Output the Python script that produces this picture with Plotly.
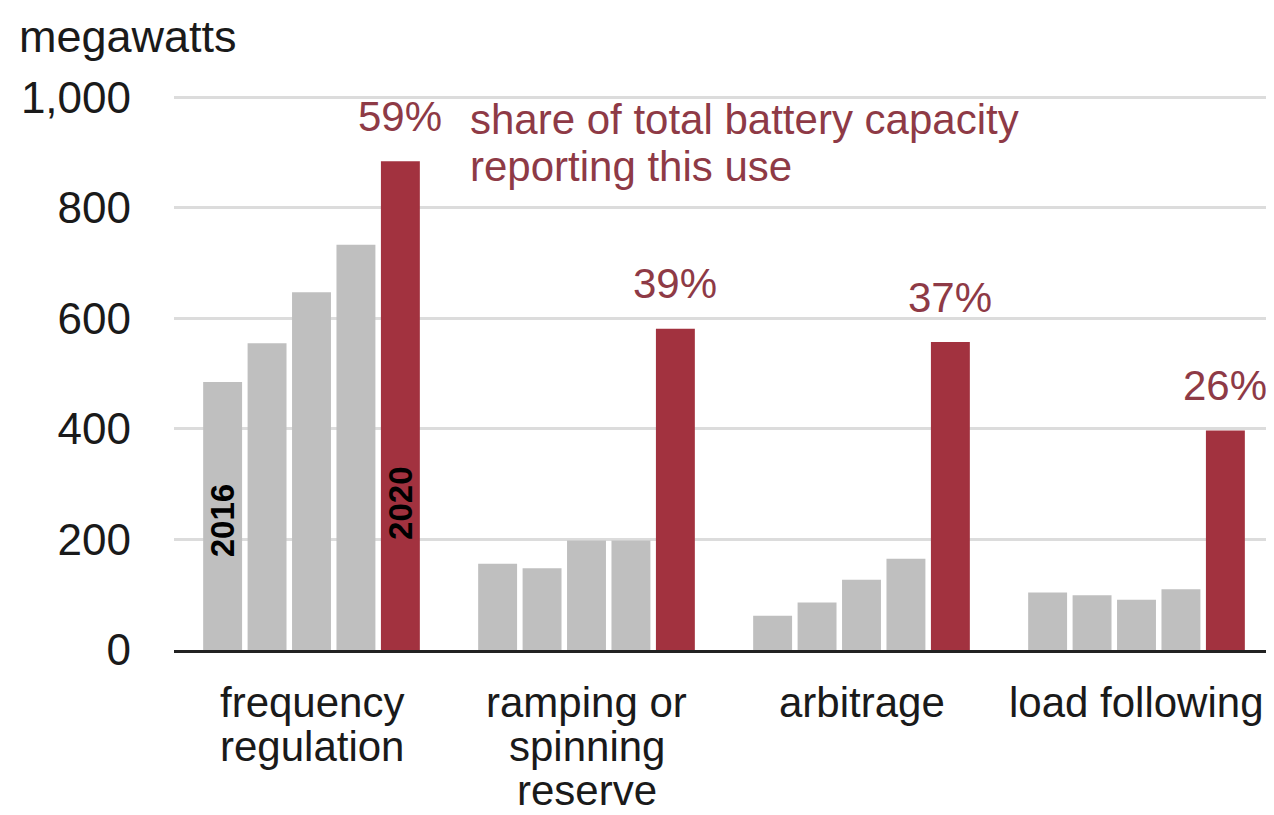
import plotly.graph_objects as go

# ---- data ----
categories = ["frequency<br>regulation", "ramping or<br>spinning<br>reserve", "arbitrage", "load following"]
years = ["2016", "2017", "2018", "2019", "2020"]
mw_2016 = [485, 156, 62, 104]
mw_2017 = [555, 148, 86, 99]
mw_2018 = [647, 198, 127, 91]
mw_2019 = [733, 198, 165, 110]
mw_2020 = [884, 581, 557, 397]
shares_2020 = ["59%", "39%", "37%", "26%"]
y_ticks = [0, 200, 400, 600, 800, 1000]
legend_note = ["share of total battery capacity", "reporting this use"]
y_title = "megawatts"

series = [mw_2016, mw_2017, mw_2018, mw_2019, mw_2020]

GREY = "#bfbfbf"
RED = "#a2323f"
NOTE = "#8e3a46"
INK = "#1a1a1a"
FONT = "Liberation Sans, Arial, sans-serif"
BARGAP = 0.192
GROUPGAP = 0.124

x_idx = list(range(len(categories)))

fig = go.Figure()
for k, (yr, vals) in enumerate(zip(years, series)):
    fig.add_trace(go.Bar(
        x=x_idx, y=vals, name=yr,
        marker=dict(color=RED if yr == "2020" else GREY, line=dict(width=0)),
        hoverinfo="x+y",
    ))

n = len(years)
slot = (1 - BARGAP) / n
def bar_x(cat_i, k):
    return cat_i + (k - (n - 1) / 2) * slot

annotations = []
# percentage labels above 2020 bars
for i, (v, s) in enumerate(zip(mw_2020, shares_2020)):
    annotations.append(dict(x=bar_x(i, n - 1), y=v, xref="x", yref="y", text=s,
                            showarrow=False, yanchor="middle", yshift=45,
                            font=dict(size=42, color=NOTE, family=FONT)))

# year labels inside first group bars
year_label_y = {0: 234, n - 1: 265}
for k, yv in year_label_y.items():
    annotations.append(dict(x=bar_x(0, k), y=yv, xref="x", yref="y", text=years[k],
                            showarrow=False, textangle=-90,
                            font=dict(size=33, color="#000000", family=FONT, weight="bold")))

# note text
for j, line in enumerate(legend_note):
    annotations.append(dict(x=bar_x(1, 0), y=1, xref="x", yref="paper", text=line,
                            showarrow=False, xanchor="left", yanchor="middle",
                            xshift=-30, yshift=-24 - 47 * j,
                            font=dict(size=42, color=NOTE, family=FONT)))

# category labels (line by line)
for i, cat in enumerate(categories):
    for j, line in enumerate(cat.split("<br>")):
        annotations.append(dict(x=i, y=0, xref="x", yref="paper", text=line,
                                showarrow=False, yanchor="middle",
                                yshift=-52 - 44 * j,
                                font=dict(size=42, color=INK, family=FONT)))

# axis title
annotations.append(dict(x=0, y=1, xref="paper", yref="paper", text=y_title,
                        showarrow=False, xanchor="left", yanchor="middle",
                        xshift=-157, yshift=59,
                        font=dict(size=45, color=INK, family=FONT)))

fig.update_layout(
    width=1266, height=807,
    margin=dict(l=166, r=0, t=87, b=165),
    paper_bgcolor="white", plot_bgcolor="white",
    barmode="group", bargap=BARGAP, bargroupgap=GROUPGAP,
    showlegend=False,
    font=dict(family=FONT, color=INK),
    annotations=annotations,
    xaxis=dict(
        tickvals=x_idx, showticklabels=False, range=[-0.5, len(categories) - 0.5],
        showgrid=False, zeroline=False, showline=True, linecolor="#222222", linewidth=3,
        ticks="",
    ),
    yaxis=dict(
        range=[0, 1004], tickvals=y_ticks, tickformat=",",
        showgrid=True, gridcolor="#dcdcdc", gridwidth=3,
        zeroline=False, showline=False, ticks="",
        ticklabelstandoff=42,
        tickfont=dict(size=44, color=INK, family=FONT),
    ),
)

fig.write_html("out.html")
